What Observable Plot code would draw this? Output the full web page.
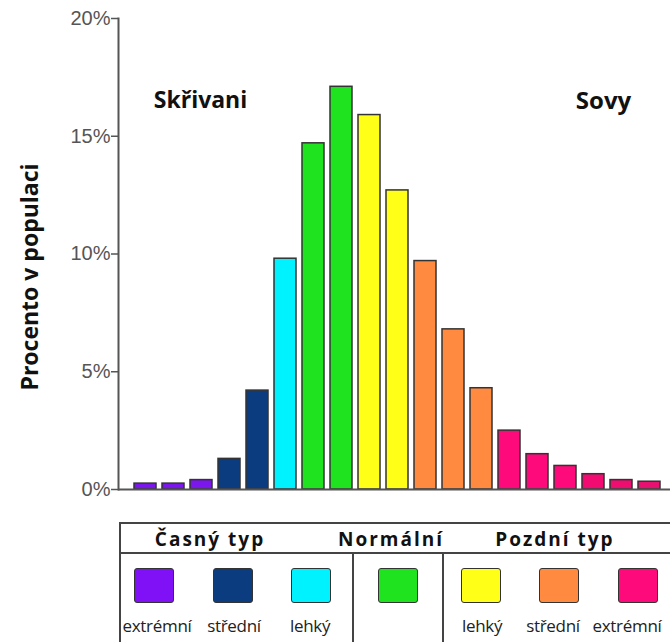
<!DOCTYPE html>
<html>
<head>
<meta charset="utf-8">
<script src="https://cdn.jsdelivr.net/npm/d3@7"></script>
<script src="https://cdn.jsdelivr.net/npm/@observablehq/plot@0.6"></script>
<style>
  html, body { margin: 0; padding: 0; background: #fff; }
  body { width: 670px; height: 642px; overflow: hidden; font-family: "Open Sans", sans-serif; }
  #chart svg { display: block; }
  #legend { position: relative; width: 670px; height: 132px; overflow: hidden; }
  #legend .box { position: absolute; left: 119px; top: 12px; width: 600px; height: 160px; border: 2px solid #444; box-sizing: border-box; }
  #legend .hline { position: absolute; left: 119px; top: 42px; width: 600px; height: 2px; background: #444; }
  #legend .vline { position: absolute; top: 43px; width: 2px; height: 100px; background: #444; }
  #legend .head { position: absolute; top: 15px; transform: translateX(-50%); font-weight: 700; font-size: 19px; letter-spacing: 2px; color: #111; white-space: nowrap; line-height: 28px; }
  #legend .sw { position: absolute; top: 58px; width: 40px; height: 35px; border: 1.5px solid #333; border-radius: 3px; box-sizing: border-box; transform: translateX(-50%); }
  #legend .lab { position: absolute; top: 105px; transform: translateX(-50%); font-size: 17px; letter-spacing: -0.3px; color: #222; white-space: nowrap; line-height: 22px; }
</style>
</head>
<body>
<div id="chart"></div>
<div id="legend"></div>
<script>
// ---- data ----
const categories = ["1","2","3","4","5","6","7","8","9","10","11","12","13","14","15","16","17","18","19"];
const values = [0.25, 0.25, 0.4, 1.3, 4.2, 9.8, 14.7, 17.1, 15.9, 12.7, 9.7, 6.8, 4.3, 2.5, 1.5, 1.0, 0.65, 0.4, 0.33];
const barColors = ["#7c16ee","#7c16ee","#7c16ee","#0c3c80","#0c3c80","#00f2ff","#1fe31f","#1fe31f","#ffff17","#ffff17","#ff8a40","#ff8a40","#ff8a40","#ff0a7a","#ff0a7a","#ff0a7a","#f20c72","#ee0e70","#e81070"];
const yTicks = [0, 0.05, 0.10, 0.15, 0.20];
const yLabel = "Procento v populaci";
const annotations = ["Skřivani", "Sovy"];
const annotationCats = ["3", "17"];
const annotationY = 0.165;

const legendGroups = ["Časný typ", "Normální", "Pozdní typ"];
const legendColors = ["#8010f5", "#0c3c80", "#00f2ff", "#1fe31f", "#ffff17", "#ff8a40", "#ff0a7a"];
const legendLabels = ["extrémní", "střední", "lehký", "", "lehký", "střední", "extrémní"];

// ---- chart ----
const data = categories.map((c, i) => ({cat: c, value: values[i] / 100, color: barColors[i]}));

const chart = Plot.plot({
  width: 670,
  height: 510,
  marginLeft: 118,
  marginRight: 0,
  marginTop: 18,
  marginBottom: 21,
  style: {background: "white", fontFamily: "'Liberation Sans', Arial, sans-serif"},
  x: {type: "band", domain: categories, range: [118, 676], paddingInner: 0.23, paddingOuter: 0.345, axis: null},
  y: {domain: [0, 0.2]},
  color: {type: "identity"},
  marks: [
    Plot.axisY({ticks: yTicks, tickFormat: d3.format(".0%"), tickSize: 7, tickPadding: 1, fontSize: 20, color: "#555", label: null, stroke: "#555", strokeWidth: 1.5, style: {letterSpacing: "2px"}}),
    Plot.barY(data, {x: "cat", y: "value", fill: "color", stroke: "#333", strokeWidth: 1.5}),
    Plot.frame({anchor: "left", stroke: "#555", strokeWidth: 2}),
    Plot.ruleY([0], {stroke: "#555", strokeWidth: 2}),
    Plot.text([yLabel], {frameAnchor: "left", textAnchor: "middle", rotate: -90, dx: -88, dy: 23, fontSize: 23, fontWeight: "bold", fontFamily: "Open Sans", fill: "#111"}),
    Plot.text([annotations[0]], {x: () => annotationCats[0], y: () => annotationY, dx: -1, fontSize: 23, fontWeight: "bold", fontFamily: "Open Sans", fill: "#111", style: {letterSpacing: "1px"}}),
    Plot.text([annotations[1]], {x: () => annotationCats[1], y: () => annotationY, dx: 10, fontSize: 24, fontWeight: "bold", fontFamily: "Open Sans", fill: "#111", style: {letterSpacing: "1.5px"}})
  ]
});
document.getElementById("chart").appendChild(chart);

// ---- legend table ----
const lg = document.getElementById("legend");
const add = (cls, style, text) => {
  const d = document.createElement("div");
  d.className = cls;
  Object.assign(d.style, style);
  if (text) d.textContent = text;
  lg.appendChild(d);
  return d;
};
add("box", {});
add("hline", {});
add("vline", {left: "352px"});
add("vline", {left: "442px"});
const headX = [210, 391, 555];
legendGroups.forEach((g, i) => add("head", {left: headX[i] + "px"}, g));
const swX = [154, 233, 311, 398, 481, 559, 638];
const labX = [157, 234, 310, 398, 482, 553, 627];
legendColors.forEach((c, i) => {
  add("sw", {left: swX[i] + "px", background: c});
  if (legendLabels[i]) add("lab", {left: labX[i] + "px"}, legendLabels[i]);
});
</script>
</body>
</html>
